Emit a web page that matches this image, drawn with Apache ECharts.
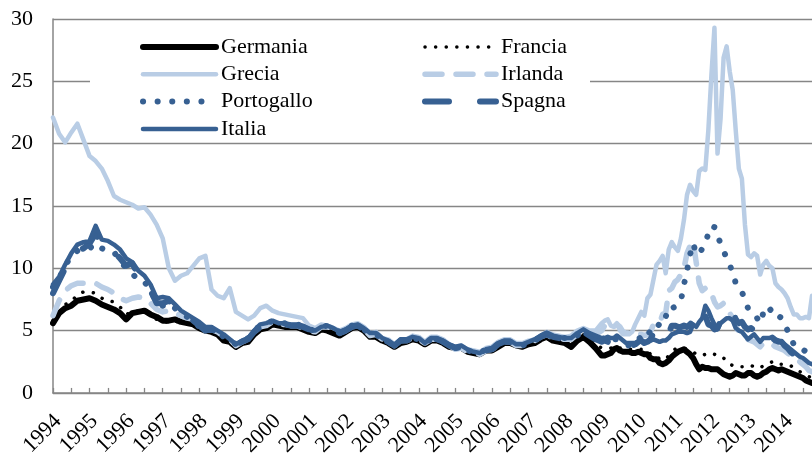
<!DOCTYPE html>
<html>
<head>
<meta charset="utf-8">
<script src="https://cdn.jsdelivr.net/npm/echarts@6/dist/echarts.min.js"></script>
<style>
html,body{margin:0;padding:0;background:#fff;}
#chart{width:812px;height:459px;}
</style>
</head>
<body>
<div id="chart"></div>
<script>
// Month labels: bimonthly 1994-2008, monthly 2009-01 .. 2014-10
const months = [];
for (let y = 1994; y <= 2008; y++) for (let m = 1; m <= 11; m += 2) months.push(y + '-' + String(m).padStart(2, '0'));
for (let y = 2009; y <= 2014; y++) for (let m = 1; m <= 12; m++) { if (y === 2014 && m > 10) break; months.push(y + '-' + String(m).padStart(2, '0')); }

const yTicks = [0, 5, 10, 15, 20, 25, 30];
const yearLabels = ['1994','1995','1996','1997','1998','1999','2000','2001','2002','2003','2004','2005','2006','2007','2008','2009','2010','2011','2012','2013','2014'];

const germania = [
5.6,6.4,6.8,7.0,7.4,7.5,
7.6,7.4,7.1,6.9,6.7,6.4,
5.9,6.4,6.5,6.6,6.3,6.1,
5.8,5.8,5.9,5.7,5.6,5.5,
5.2,5.0,4.9,4.7,4.2,4.1,
3.7,4.0,4.1,4.7,5.1,5.2,
5.5,5.4,5.3,5.3,5.3,5.1,
4.9,4.8,5.1,5.0,4.8,4.6,
4.9,5.2,5.3,5.0,4.5,4.5,
4.2,4.0,3.7,4.0,4.1,4.3,
4.2,3.9,4.2,4.2,4.0,3.7,
3.6,3.6,3.3,3.2,3.1,3.4,
3.4,3.7,4.0,4.0,3.8,3.7,
3.9,4.0,4.3,4.5,4.2,4.1,
4.0,3.7,4.2,4.5,4.1,3.6,
3.0,3.0,3.1,3.2,3.5,3.6,3.4,3.3,3.3,3.3,3.2,3.2,
3.3,3.2,3.1,3.1,2.8,2.7,2.7,2.4,2.3,2.4,2.6,2.9,
3.1,3.3,3.4,3.5,3.3,3.1,2.8,2.3,1.9,2.1,2.0,2.0,
1.9,1.9,1.9,1.7,1.5,1.4,1.3,1.4,1.6,1.5,1.4,1.4,
1.6,1.6,1.4,1.3,1.4,1.6,1.7,1.9,2.0,1.9,1.8,1.9,
1.8,1.7,1.6,1.5,1.4,1.3,1.2,1.0,0.9,0.8];

const francia = [
5.8,6.5,7.1,7.3,7.9,8.1,
8.1,8.0,7.6,7.4,7.3,6.9,
6.3,6.5,6.6,6.6,6.3,5.9,
5.7,5.7,5.8,5.6,5.6,5.6,
5.3,5.1,5.0,4.8,4.3,4.2,
3.8,4.1,4.2,4.8,5.2,5.3,
5.7,5.5,5.5,5.4,5.4,5.3,
5.0,4.9,5.2,5.2,5.0,4.7,
5.0,5.3,5.4,5.1,4.6,4.7,
4.3,4.1,3.8,4.1,4.2,4.4,
4.3,4.0,4.3,4.3,4.1,3.8,
3.6,3.7,3.4,3.3,3.1,3.5,
3.5,3.8,4.1,4.1,3.8,3.8,
4.0,4.1,4.4,4.6,4.3,4.2,
4.2,4.0,4.4,4.7,4.4,3.9,
3.6,3.6,3.6,3.6,3.7,3.8,3.6,3.6,3.6,3.5,3.5,3.5,
3.5,3.5,3.4,3.4,3.1,3.1,3.0,2.7,2.7,2.7,3.0,3.3,
3.5,3.6,3.6,3.6,3.5,3.4,3.3,3.1,3.0,3.0,3.1,3.2,
3.2,3.1,3.0,3.0,2.8,2.6,2.3,2.2,2.2,2.2,2.1,2.1,
2.1,2.2,2.1,2.0,2.0,2.2,2.3,2.4,2.5,2.3,2.3,2.3,
2.3,2.2,2.2,2.0,1.9,1.7,1.6,1.4,1.3,1.2];

const grecia = [
22.1,20.8,20.1,20.9,21.6,20.3,
19.0,18.6,18.0,17.0,15.8,15.5,
15.3,15.1,14.8,14.9,14.3,13.5,
12.4,10.0,9.0,9.4,9.6,10.2,
10.8,11.0,8.3,7.8,7.6,8.4,
6.5,6.2,5.9,6.2,6.8,7.0,
6.6,6.4,6.3,6.2,6.1,6.0,
5.4,5.2,5.5,5.4,5.2,5.0,
5.2,5.5,5.6,5.3,4.8,4.9,
4.4,4.3,3.9,4.3,4.3,4.6,
4.5,4.1,4.5,4.5,4.3,3.9,
3.7,3.8,3.5,3.4,3.3,3.6,
3.7,4.1,4.3,4.3,4.0,4.0,
4.2,4.3,4.6,4.9,4.7,4.6,
4.5,4.6,5.0,5.2,5.0,5.0,
5.6,5.8,5.9,5.4,5.3,5.6,5.0,4.7,4.7,4.7,4.9,5.5,
6.0,6.5,6.2,7.6,7.9,9.1,10.3,10.6,11.0,9.6,11.5,12.1,
11.7,11.4,12.4,13.9,15.9,16.7,16.2,15.9,17.8,18.0,17.9,21.1,
25.5,29.3,19.2,22.0,26.9,27.8,25.8,24.3,21.0,18.0,17.2,13.5,
11.1,10.9,11.2,11.0,9.5,10.3,10.6,10.2,10.0,8.8,8.5,8.3,
8.0,7.6,6.9,6.3,6.3,6.0,6.0,6.1,6.0,7.8];

const irlanda = [
6.2,7.4,8.2,8.6,8.8,8.8,
8.8,8.8,8.5,8.3,8.0,7.6,
7.4,7.6,7.7,7.6,7.2,6.7,
6.5,6.6,6.4,6.2,6.0,5.9,
5.4,5.0,5.1,4.9,4.5,4.3,
3.8,4.1,4.3,4.9,5.3,5.4,
5.7,5.5,5.5,5.4,5.4,5.2,
5.0,4.9,5.3,5.3,5.1,4.8,
5.0,5.3,5.4,5.1,4.6,4.7,
4.3,4.1,3.8,4.2,4.2,4.4,
4.3,4.0,4.3,4.3,4.1,3.8,
3.5,3.6,3.3,3.2,3.1,3.4,
3.5,3.8,4.1,4.1,3.8,3.8,
4.0,4.2,4.5,4.7,4.4,4.3,
4.3,4.3,4.7,5.0,4.7,4.7,
5.0,5.4,5.6,5.4,5.3,5.5,5.3,4.9,4.8,4.8,4.8,4.9,
4.7,4.7,4.6,4.7,4.9,5.5,5.5,5.6,6.3,6.4,8.2,8.4,
8.9,9.1,9.5,10.0,11.2,11.8,12.2,10.5,8.8,8.2,8.4,8.4,
8.0,7.3,6.9,7.0,7.2,7.0,6.4,6.0,5.3,4.9,4.7,4.5,
4.3,4.2,4.1,3.9,3.7,4.0,4.0,3.9,3.9,3.7,3.6,3.5,
3.4,3.2,3.0,2.9,2.8,2.5,2.3,2.1,1.8,1.7];

const portogallo = [
8.5,9.2,10.2,11.0,11.4,11.4,
11.6,12.0,11.6,11.4,11.3,10.6,
10.0,9.6,9.0,8.9,8.3,7.2,
7.0,7.2,6.8,6.4,6.1,5.8,
5.3,4.9,5.1,4.9,4.5,4.3,
3.9,4.2,4.4,5.0,5.4,5.5,
5.8,5.6,5.6,5.5,5.5,5.4,
5.1,5.0,5.3,5.4,5.2,4.9,
5.1,5.4,5.4,5.1,4.7,4.7,
4.3,4.1,3.8,4.2,4.2,4.4,
4.3,4.0,4.3,4.3,4.1,3.8,
3.6,3.7,3.4,3.3,3.2,3.5,
3.6,3.9,4.1,4.1,3.8,3.8,
4.0,4.2,4.5,4.7,4.5,4.4,
4.4,4.3,4.6,5.0,4.7,4.5,
4.3,4.4,4.6,4.5,4.3,4.3,4.2,4.0,3.9,3.8,3.8,3.9,
4.3,4.5,4.3,4.6,5.0,5.4,5.6,5.4,6.1,6.1,6.9,6.8,
6.9,7.2,7.4,8.7,9.8,11.1,12.0,11.2,11.1,11.6,12.0,12.8,
13.4,13.3,12.6,12.0,11.4,10.8,10.3,9.6,8.8,8.4,8.1,7.5,
6.8,6.4,6.2,6.0,5.6,6.4,6.9,6.6,6.8,6.6,6.2,6.0,
5.5,5.0,4.5,3.9,3.6,3.5,3.5,3.3,3.1,3.0];

const spagna = [
8.0,9.0,10.0,10.8,11.4,11.6,
12.0,12.8,11.8,11.4,11.3,10.8,
10.2,10.4,9.4,9.0,8.2,7.2,
7.2,7.4,6.9,6.4,6.1,5.8,
5.4,5.0,5.1,4.9,4.5,4.2,
3.9,4.1,4.3,4.9,5.3,5.4,
5.7,5.5,5.5,5.4,5.4,5.3,
5.1,5.0,5.3,5.3,5.1,4.8,
5.0,5.3,5.4,5.1,4.7,4.7,
4.3,4.1,3.8,4.2,4.2,4.4,
4.3,4.0,4.3,4.3,4.1,3.8,
3.6,3.7,3.4,3.3,3.1,3.4,
3.5,3.9,4.1,4.1,3.8,3.8,
4.0,4.2,4.5,4.7,4.5,4.4,
4.3,4.2,4.6,4.9,4.6,4.3,
4.1,4.2,4.1,4.0,4.2,4.4,4.1,3.9,3.9,3.9,3.8,3.9,
4.1,4.2,4.0,4.1,4.3,4.8,4.6,4.3,4.3,4.2,4.8,5.4,
5.4,5.3,5.3,5.4,5.3,5.5,5.8,5.2,5.2,5.3,6.2,5.5,
5.4,5.1,5.2,5.8,6.1,6.6,6.8,6.6,5.9,5.6,5.7,5.3,
5.1,5.2,5.0,4.6,4.3,4.6,4.7,4.5,4.4,4.2,4.1,4.1,
3.8,3.6,3.3,3.1,2.9,2.7,2.7,2.4,2.2,2.1];

const italia = [
8.7,9.3,10.3,11.2,11.9,12.1,
12.2,13.4,12.3,12.2,11.9,11.5,
10.8,10.5,9.8,9.4,8.7,7.6,
7.7,7.6,7.1,6.6,6.3,6.0,
5.7,5.3,5.3,5.0,4.7,4.3,
3.9,4.2,4.4,5.0,5.5,5.6,
5.8,5.6,5.6,5.5,5.5,5.4,
5.1,5.0,5.3,5.4,5.2,4.9,
5.1,5.4,5.5,5.2,4.8,4.8,
4.4,4.2,3.8,4.3,4.3,4.5,
4.4,4.0,4.4,4.4,4.2,3.9,
3.7,3.8,3.5,3.3,3.2,3.5,
3.6,4.0,4.2,4.2,3.9,3.9,
4.1,4.3,4.6,4.85,4.6,4.5,
4.4,4.4,4.8,5.1,4.8,4.6,
4.4,4.4,4.5,4.4,4.4,4.6,4.4,4.2,4.0,4.0,4.0,4.0,
4.1,4.2,4.1,4.1,4.2,4.3,4.2,4.1,4.2,4.2,4.4,4.7,
4.8,4.9,4.9,4.9,4.8,4.9,5.5,5.3,5.7,6.0,7.0,6.6,
6.0,5.5,5.1,5.6,5.8,6.0,6.0,5.8,5.2,5.0,4.9,4.6,
4.3,4.5,4.7,4.4,4.1,4.4,4.4,4.4,4.5,4.3,4.2,4.1,
3.9,3.7,3.5,3.3,3.1,2.9,2.8,2.6,2.4,2.3];

const LIGHT = '#B9CDE5', DARK = '#376092', BLACK = '#000000';
const FONT = 'Liberation Serif, Times New Roman, serif';

function toTime(s) { const p = s.split('-'); return +p[0] + (+p[1] - 1) / 12; }
function pairs(vals) { return months.map((m, i) => [toTime(m), vals[i]]); }

const seriesDefs = [
  { name: 'Germania', data: germania, color: BLACK, width: 6, type: 'solid', cap: 'round' },
  { name: 'Francia', data: francia, color: BLACK, width: 3.5, type: [0.1, 10.5], cap: 'round' },
  { name: 'Grecia', data: grecia, color: LIGHT, width: 4.5, type: 'solid', cap: 'round' },
  { name: 'Irlanda', data: irlanda, color: LIGHT, width: 5.5, type: [17, 14], cap: 'round' },
  { name: 'Portogallo', data: portogallo, color: DARK, width: 6, type: [0.1, 14.5], cap: 'round' },
  { name: 'Spagna', data: spagna, color: DARK, width: 6, type: [24, 31], cap: 'round' },
  { name: 'Italia', data: italia, color: DARK, width: 4.5, type: 'solid', cap: 'round' }
];

const chart = echarts.init(document.getElementById('chart'), null, { renderer: 'canvas' });

function legendItem(name) {
  const d = seriesDefs.find(s => s.name === name);
  return {
    name: name,
    itemStyle: { opacity: 0, color: 'rgba(0,0,0,0)', borderWidth: 0 },
    lineStyle: { width: d.width, color: d.color, type: d.type, cap: d.cap }
  };
}
const legendCommon = {
  orient: 'vertical', padding: 0, itemWidth: 73, itemHeight: 14, itemGap: 3.3,
  selectedMode: false,
  itemStyle: { opacity: 0 },
  textStyle: { fontFamily: FONT, fontSize: 22, color: '#000', lineHeight: 24 }
};

chart.setOption({
  animation: false,
  backgroundColor: '#fff',
  grid: { left: 53, right: 0, top: 19, bottom: 63 },
  graphic: [{ type: 'rect', left: 90, top: 22, shape: { width: 500, height: 119 }, style: { fill: '#fff' }, z: 1 }],
  legend: [
    Object.assign({}, legendCommon, { left: 140, top: 35, data: ['Germania', 'Grecia', 'Portogallo', 'Italia'].map(legendItem) }),
    Object.assign({}, legendCommon, { left: 422, top: 35, itemWidth: 71, data: ['Francia', 'Irlanda', 'Spagna'].map(legendItem) })
  ],
  xAxis: {
    type: 'value', min: 1994, max: 2014.75, interval: 0.5,
    axisLine: { show: true, lineStyle: { color: '#868686', width: 1.5 } },
    axisTick: { show: true, inside: true, length: 5, lineStyle: { color: '#868686', width: 1.3 } },
    splitLine: { show: false },
    axisLabel: {
      rotate: 45, margin: 30, padding: [0, -7, 0, 0], fontFamily: FONT, fontSize: 22, color: '#000',
      showMaxLabel: false,
      formatter: function (v) { const s = String(v); return yearLabels.indexOf(s) >= 0 ? s : ''; }
    }
  },
  yAxis: {
    type: 'value', min: yTicks[0], max: yTicks[yTicks.length - 1], interval: 5,
    axisLine: { show: true, lineStyle: { color: '#868686', width: 1.5 } },
    axisTick: { show: false },
    splitLine: { show: true, lineStyle: { color: '#868686', width: 1.3 } },
    axisLabel: { margin: 20, fontFamily: FONT, fontSize: 22, color: '#000' }
  },
  series: seriesDefs.map(d => ({
    name: d.name, type: 'line', data: pairs(d.data),
    symbol: 'none', showSymbol: false, smooth: false, z: 3,
    lineStyle: { color: d.color, width: d.width, type: d.type, cap: d.cap, join: 'round' },
    itemStyle: { color: d.color }
  }))
});
</script>
</body>
</html>
